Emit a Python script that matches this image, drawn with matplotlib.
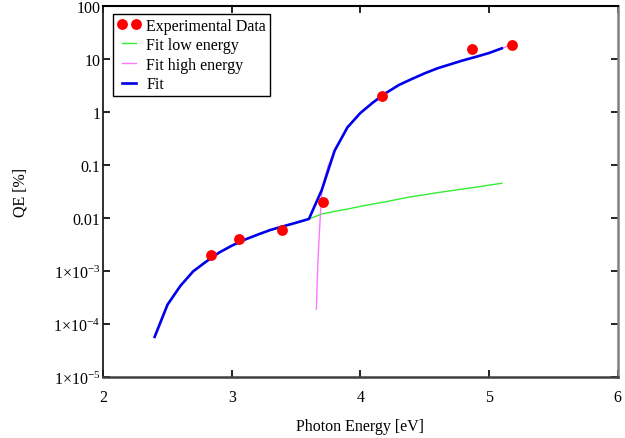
import matplotlib
matplotlib.use("Agg")
import matplotlib.pyplot as plt
from matplotlib.ticker import FixedLocator, FixedFormatter, NullLocator

plt.rcParams['font.family'] = ['Liberation Serif', 'DejaVu Serif']
plt.rcParams['mathtext.fontset'] = 'custom'
plt.rcParams['mathtext.rm'] = 'Liberation Serif'
plt.rcParams['mathtext.it'] = 'Liberation Serif:italic'
plt.rcParams['mathtext.bf'] = 'Liberation Serif:bold'

# Experimental data
exp_E = [2.84, 3.06, 3.39, 3.71, 4.17, 4.87, 5.18]
exp_QE = [0.0020, 0.0040, 0.0059, 0.020, 1.95, 15.0, 18.0]

# Fit low energy
low_E = [2.4, 2.5, 2.6, 2.7, 2.8, 2.9, 3.0, 3.1, 3.2, 3.3, 3.4, 3.5, 3.6,
         3.7, 3.8, 3.9, 4.0, 4.1, 4.2, 4.3, 4.4, 4.5, 4.6, 4.7, 4.8, 4.9, 5.0, 5.1]
low_QE = [5.7e-5, 2.3e-4, 5.2e-4, 9.8e-4, 1.49e-3, 2.20e-3, 2.98e-3, 3.86e-3,
          4.80e-3, 5.89e-3, 6.91e-3, 8.07e-3, 9.5e-3,
          0.0118, 0.0132, 0.0146, 0.0164, 0.0182, 0.0201, 0.0225, 0.0250,
          0.0272, 0.0298, 0.0322, 0.0350, 0.0378, 0.0412, 0.0447]

# Fit high energy
high_E = [3.658, 3.662, 3.666, 3.670, 3.675, 3.680, 3.686, 3.692, 3.700, 3.72,
          3.75, 3.8, 3.9, 4.0, 4.1, 4.2, 4.3, 4.4, 4.5, 4.6, 4.7, 4.8, 4.9,
          5.0, 5.1, 5.2]
high_QE = [1.9e-4, 4.0e-4, 8.0e-4, 1.5e-3, 2.6e-3, 4.5e-3, 8.5e-3, 0.015,
           0.030, 0.052, 0.095, 0.184, 0.507, 0.942, 1.50, 2.25, 3.18, 4.12,
           5.27, 6.56, 7.80, 9.27, 10.8, 12.7, 15.6, 19.0]

# Fit (combined)
fit_E = [2.4, 2.5, 2.6, 2.7, 2.8, 2.9, 3.0, 3.1, 3.2, 3.3, 3.4, 3.5, 3.6,
         3.7, 3.8, 3.9, 4.0, 4.1, 4.2, 4.3, 4.4, 4.5, 4.6, 4.7, 4.8, 4.9, 5.0, 5.1]
fit_QE = [5.7e-5, 2.3e-4, 5.2e-4, 9.8e-4, 1.49e-3, 2.20e-3, 2.98e-3, 3.86e-3,
          4.80e-3, 5.89e-3, 6.91e-3, 8.07e-3, 9.5e-3,
          0.0334, 0.184, 0.507, 0.942, 1.50, 2.25, 3.18, 4.12, 5.27, 6.56,
          7.80, 9.27, 10.8, 12.7, 15.6]

x_ticks = [2, 3, 4, 5, 6]
y_ticks = [1e-5, 1e-4, 1e-3, 0.01, 0.1, 1, 10, 100]
y_labels = [r'$1{\times}10^{-5}$', r'$1{\times}10^{-4}$', r'$1{\times}10^{-3}$',
            '0.01', '0.1', '1', '10', '100']

fig = plt.figure(figsize=(6.25, 4.39), dpi=100)
ax = fig.add_axes([103.2 / 625, 61 / 439, 514.3 / 625, 371.5 / 439])

ax.plot(exp_E, exp_QE, 'o', color='#ff0000', markersize=7.8,
        markeredgewidth=0, label='Experimental Data', zorder=5)
ax.plot(low_E, low_QE, '-', color='#33ee33', lw=1.0, label='Fit low energy', zorder=2)
ax.plot(high_E, high_QE, '-', color='#ff77ff', lw=1.0, label='Fit high energy', zorder=2)
ax.plot(fit_E, fit_QE, '-', color='#0000ee', lw=1.9, label='Fit', zorder=3)

ax.set_yscale('log')
ax.set_xlim(2, 6)
ax.set_ylim(1e-5, 100)

ax.xaxis.set_major_locator(FixedLocator(x_ticks))
ax.yaxis.set_major_locator(FixedLocator(y_ticks))
ax.yaxis.set_major_formatter(FixedFormatter(y_labels))
ax.yaxis.set_minor_locator(NullLocator())
ax.xaxis.set_minor_locator(NullLocator())

ax.tick_params(axis='both', which='major', direction='in', length=5, width=1.2,
               labelsize=11.5, top=True, right=True, colors='black')
ax.tick_params(axis='x', pad=9)
ax.tick_params(axis='y', pad=2)
for t in ax.yaxis.get_ticklines()[1::2]:
    t.set_color('#808080')

ax.spines['left'].set_color('#202020')
ax.spines['left'].set_linewidth(1.3)
ax.spines['bottom'].set_color('#404040')
ax.spines['bottom'].set_linewidth(1.8)
ax.spines['top'].set_color('black')
ax.spines['top'].set_linewidth(1.5)
ax.spines['right'].set_color('#808080')
ax.spines['right'].set_linewidth(1.8)

ax.set_xlabel('Photon Energy [eV]', fontsize=11.5, labelpad=9)
ax.set_ylabel('QE [%]', fontsize=11.5, labelpad=18)

leg = ax.legend(loc='upper left', bbox_to_anchor=(0.0196, 0.977), borderaxespad=0,
                fontsize=11.5, numpoints=2, handlelength=1.5, handletextpad=0.35,
                labelspacing=0.22, borderpad=0.22, fancybox=False, framealpha=1)
leg.get_frame().set_edgecolor('black')
leg.get_frame().set_linewidth(1.0)

fig.savefig('out.png', dpi=100)
